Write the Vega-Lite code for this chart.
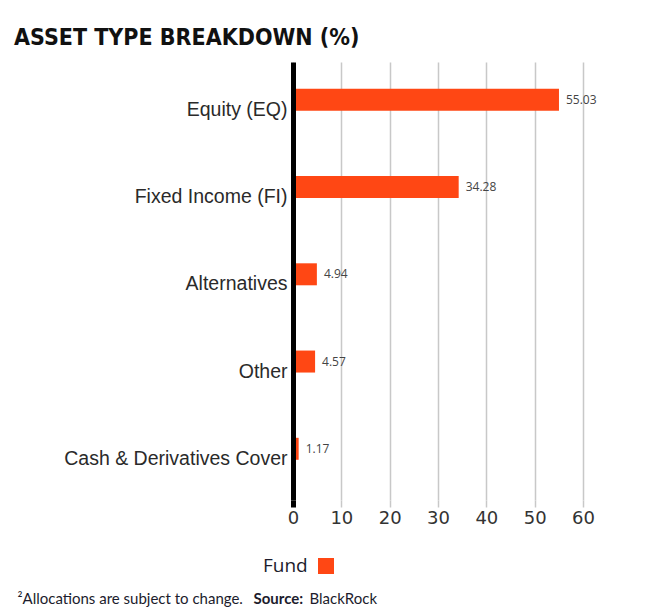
{
  "$schema": "https://vega.github.io/schema/vega-lite/v6.json",
  "width": 290,
  "height": 438,
  "autosize": {"type": "none"},
  "padding": {"left": 293, "top": 62, "right": 70, "bottom": 113},
  "background": "white",
  "title": {
    "text": "ASSET TYPE BREAKDOWN (%)",
    "anchor": "start",
    "frame": "group",
    "dx": -279,
    "offset": 12,
    "font": "DejaVu Sans Condensed",
    "fontSize": 23,
    "fontWeight": "bold",
    "color": "#111111"
  },
  "config": {"view": {"stroke": null}},
  "data": {
    "values": [
      {"asset": "Equity (EQ)", "value": 55.03, "series": "Fund"},
      {"asset": "Fixed Income (FI)", "value": 34.28, "series": "Fund"},
      {"asset": "Alternatives", "value": 4.94, "series": "Fund"},
      {"asset": "Other", "value": 4.57, "series": "Fund"},
      {"asset": "Cash & Derivatives Cover", "value": 1.17, "series": "Fund"}
    ]
  },
  "layer": [
    {
      "mark": {"type": "bar"},
      "encoding": {
        "y": {
          "field": "asset",
          "type": "nominal",
          "sort": null,
          "scale": {"paddingInner": 0.748, "paddingOuter": 0.384, "align": 0.4},
          "axis": {
            "orient": "left",
            "zindex": 1,
            "domain": true,
            "domainColor": "#000000",
            "domainWidth": 5,
            "ticks": false,
            "grid": false,
            "labelPadding": 6,
            "labelFontSize": 19.5,
            "labelFont": "Liberation Sans",
            "labelColor": "#2a2a2a",
            "labelOffset": 10,
            "labelLimit": 300,
            "title": "Source:",
            "titleAngle": 0,
            "titleX": -40,
            "titleY": 536,
            "titleAlign": "left",
            "titleBaseline": "middle",
            "titleFont": "Lato",
            "titleFontSize": 15,
            "titleFontWeight": "bold",
            "titleColor": "#1c1c2c"
          }
        },
        "x": {
          "field": "value",
          "type": "quantitative",
          "scale": {"domain": [0, 60], "nice": false},
          "axis": {
            "values": [0, 10, 20, 30, 40, 50, 60],
            "grid": true,
            "gridColor": "#c8c8c8",
            "gridWidth": 1.5,
            "domain": false,
            "tickSize": 7,
            "tickColor": {"condition": {"test": "datum.value === 0", "value": "#000000"}, "value": "#c8c8c8"},
            "tickWidth": {"condition": {"test": "datum.value === 0", "value": 5}, "value": 1.5},
            "labelFlush": false,
            "labelFontSize": 18,
            "labelFont": "DejaVu Sans",
            "labelColor": "#333333",
            "labelPadding": 2,
            "title": "²Allocations are subject to change.",
            "titleX": -276,
            "titleY": 98,
            "titleAlign": "left",
            "titleBaseline": "middle",
            "titleFont": "Lato",
            "titleFontSize": 15,
            "titleFontWeight": "normal",
            "titleColor": "#1c1c2c"
          }
        },
        "color": {
          "field": "series",
          "type": "nominal",
          "scale": {"range": ["#FF4714"]},
          "legend": {
            "orient": "none",
            "legendX": -30,
            "legendY": 496,
            "title": "Fund",
            "titleOrient": "left",
            "titleFont": "Open Sans",
            "titleFontSize": 19,
            "titleFontWeight": "normal",
            "titleColor": "#1c1c2c",
            "titleBaseline": "middle",
            "titlePadding": 10,
            "labelExpr": "''",
            "symbolType": "square",
            "symbolSize": 256,
            "symbolStrokeWidth": 0,
            "symbolOpacity": 1,
            "padding": 0
          }
        }
      }
    },
    {
      "mark": {"type": "text", "align": "left", "baseline": "middle", "dx": 7, "fontSize": 12, "font": "Open Sans", "color": "#444444"},
      "encoding": {
        "y": {
          "field": "asset",
          "type": "nominal",
          "sort": null,
          "axis": {
            "orient": "right",
            "domain": false,
            "ticks": false,
            "labels": false,
            "grid": false,
            "title": "BlackRock",
            "titleAngle": 0,
            "titleX": -274,
            "titleY": 536,
            "titleAlign": "left",
            "titleBaseline": "middle",
            "titleFont": "Lato",
            "titleFontSize": 15,
            "titleFontWeight": "normal",
            "titleColor": "#1c1c2c"
          }
        },
        "x": {"field": "value", "type": "quantitative"},
        "text": {"field": "value", "type": "quantitative", "format": ".2f"}
      }
    }
  ],
  "resolve": {"axis": {"y": "independent"}}
}
